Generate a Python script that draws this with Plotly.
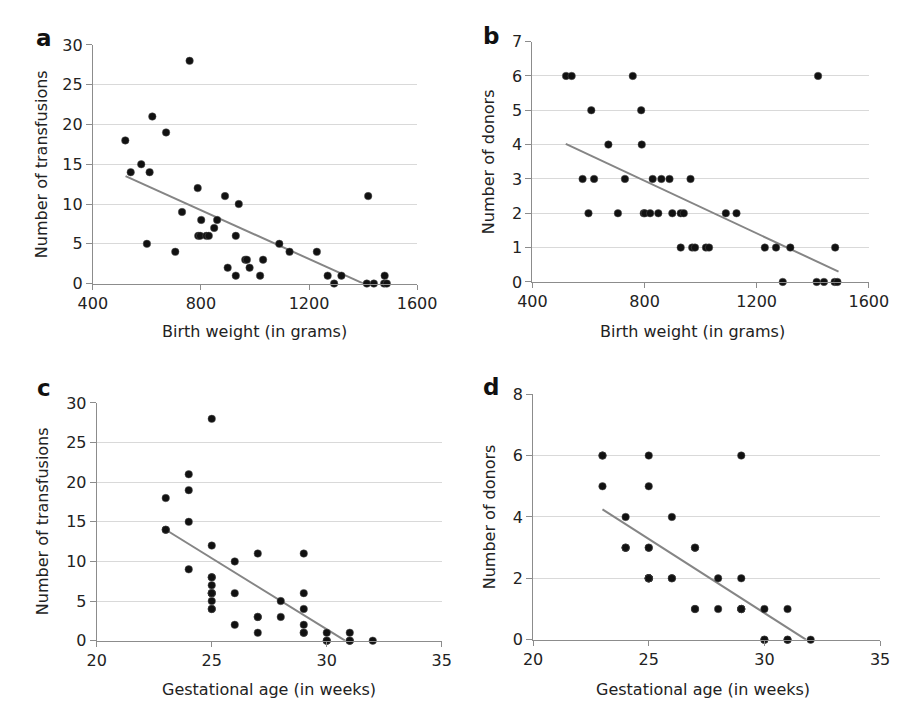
import plotly.graph_objects as go

# Shared per-infant data (same 40 infants across panels)
birth_weight = [520, 540, 579, 600, 610, 620, 671, 705, 730, 758,
                788, 790, 797, 801, 820, 829, 849, 860, 889, 899,
                929, 929, 940, 964, 970, 980, 1019, 1030, 1090, 1128,
                1229, 1269, 1293, 1320, 1419, 1414, 1440, 1480, 1478, 1488]
transfusions = [18, 14, 15, 5, 14, 21, 19, 4, 9, 28,
                12, 6, 6, 8, 6, 6, 7, 8, 11, 2,
                6, 1, 10, 3, 3, 2, 1, 3, 5, 4,
                4, 1, 0, 1, 11, 0, 0, 1, 0, 0]
donors = [6, 6, 3, 2, 5, 3, 4, 2, 3, 6,
          5, 4, 2, 2, 2, 3, 2, 3, 3, 2,
          2, 1, 2, 3, 1, 1, 1, 1, 2, 2,
          1, 1, 0, 1, 6, 0, 0, 1, 0, 0]
gest_age = [23, 23, 24, 25, 23, 24, 24, 25, 24, 25,
            25, 26, 25, 25, 25, 25, 25, 25, 27, 26,
            29, 27, 26, 27, 27, 29, 29, 28, 28, 25,
            29, 30, 30, 31, 29, 31, 32, 29, 30, 31]

# Trend lines (endpoints)
trend_a_x = [521, 1402]
trend_a_y = [13.5, 0]
trend_b_x = [519, 1492]
trend_b_y = [4.02, 0.30]
trend_c_x = [23, 30.8]
trend_c_y = [14.0, 0]
trend_d_x = [23, 31.8]
trend_d_y = [4.25, 0]

panel_letters = ["a", "b", "c", "d"]
x_titles = ["Birth weight (in grams)", "Birth weight (in grams)",
            "Gestational age (in weeks)", "Gestational age (in weeks)"]
y_titles = ["Number of transfusions", "Number of donors",
            "Number of transfusions", "Number of donors"]

W, H = 901, 703
FONT = "DejaVu Sans"
FS = 16
# plot areas in pixels: (left, right, top, bottom)
areas = [(72.7, 410, 28.7, 274), (530, 880, 25.3, 272.3),
         (76.7, 435.7, 396.7, 641), (530.7, 891.7, 387.7, 640)]

fig = go.Figure()
panels = [
    (birth_weight, transfusions, trend_a_x, trend_a_y, [400, 1600], 400, [0, 30], 5),
    (birth_weight, donors, trend_b_x, trend_b_y, [400, 1600], 400, [0, 7], 1),
    (gest_age, transfusions, trend_c_x, trend_c_y, [20, 35], 5, [0, 30], 5),
    (gest_age, donors, trend_d_x, trend_d_y, [20, 35], 5, [0, 8], 2),
]

for i, (xs, ys, tx, ty, xr, xd, yr, yd) in enumerate(panels):
    n = i + 1
    xa = "x" if n == 1 else f"x{n}"
    ya = "y" if n == 1 else f"y{n}"
    fig.add_trace(go.Scatter(x=tx, y=ty, mode="lines",
                             line=dict(color="#858585", width=2),
                             xaxis=xa, yaxis=ya, showlegend=False, hoverinfo="skip"))
    fig.add_trace(go.Scatter(x=xs, y=ys, mode="markers",
                             marker=dict(color="#111111", size=7.5,
                                         line=dict(color="#555555", width=0.5)),
                             cliponaxis=False,
                             xaxis=xa, yaxis=ya, showlegend=False))
    l, r, t, b = areas[i]
    xkey = "xaxis" if n == 1 else f"xaxis{n}"
    ykey = "yaxis" if n == 1 else f"yaxis{n}"
    fig.update_layout(**{
        xkey: dict(domain=[l / W, r / W], range=xr, dtick=xd, tick0=xr[0],
                   showgrid=False, zeroline=False, showline=True,
                   linecolor="#8c8c8c", linewidth=1, ticks="outside",
                   ticklen=5, tickcolor="#8c8c8c",
                   tickfont=dict(family=FONT, size=FS, color="#222222"),
                   anchor=ya, fixedrange=True),
        ykey: dict(domain=[1 - b / H, 1 - t / H], range=yr, dtick=yd, tick0=0,
                   showgrid=True, gridcolor="#d9d9d9", gridwidth=1,
                   zeroline=False, showline=True, linecolor="#8c8c8c",
                   linewidth=1, ticks="outside", ticklen=6, tickcolor="#8c8c8c",
                   tickfont=dict(family=FONT, size=FS, color="#222222"),
                   anchor=xa, fixedrange=True),
    })

annotations = []
letter_pos = [(11, 22), (477, 20), (12, 381), (477, 380)]
xt_pos = [(241, 323), (697, 323), (256, 691), (707, 691)]
yt_pos = [(20, 151), (485, 149), (20, 518), (485, 514)]
for i in range(4):
    lx, ly = letter_pos[i]
    annotations.append(dict(text=f"<b>{panel_letters[i]}</b>", x=lx / W, y=1 - ly / H,
                            xref="paper", yref="paper", xanchor="left", yanchor="middle",
                            showarrow=False, font=dict(family=FONT, size=23, color="#111111")))
    px, py = xt_pos[i]
    annotations.append(dict(text=x_titles[i], x=px / W, y=1 - py / H,
                            xref="paper", yref="paper", xanchor="center", yanchor="middle",
                            showarrow=False, font=dict(family=FONT, size=FS, color="#222222")))
    qx, qy = yt_pos[i]
    annotations.append(dict(text=y_titles[i], x=qx / W, y=1 - qy / H, textangle=-90,
                            xref="paper", yref="paper", xanchor="center", yanchor="middle",
                            showarrow=False, font=dict(family=FONT, size=FS, color="#222222")))

fig.update_layout(width=W, height=H, margin=dict(l=0, r=0, t=0, b=0),
                  paper_bgcolor="white", plot_bgcolor="white",
                  annotations=annotations, showlegend=False)

fig.write_html("out.html")
